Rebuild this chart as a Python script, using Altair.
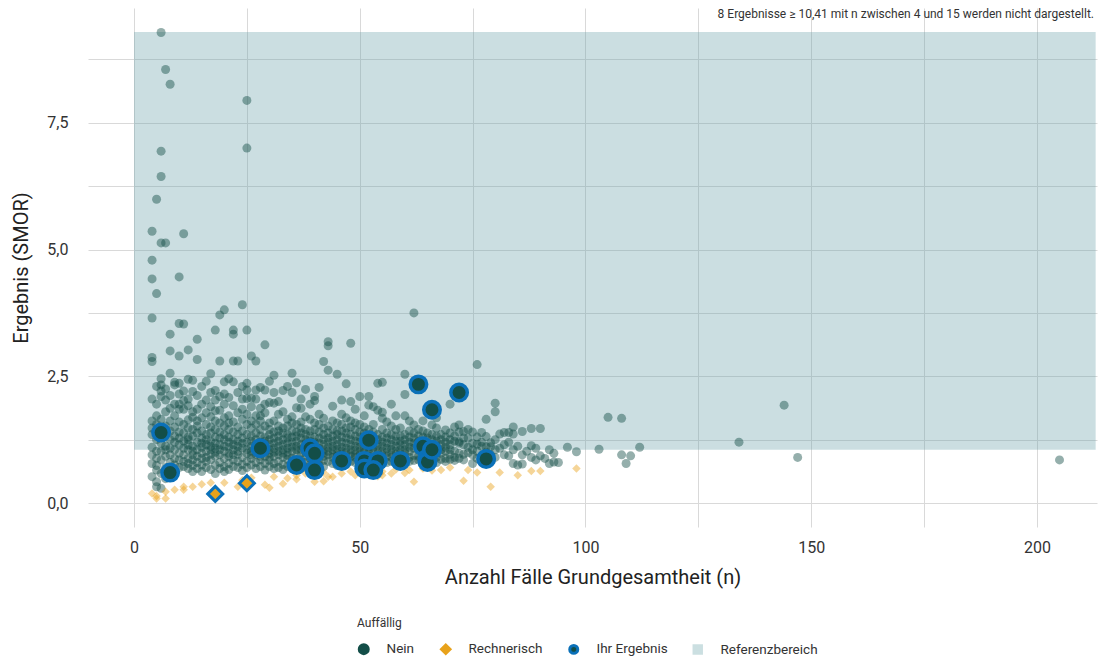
import altair as alt
import pandas as pd

# ---------------- data ----------------
# Unauffällige Ergebnisse ("Nein"): Fallzahl n and the SMOR values at that n
nein_n = [4, 5, 6, 7, 8, 9, 10, 11, 12, 13, 14, 15, 16, 17, 18, 19, 20, 21, 22, 23,
          24, 25, 26, 27, 28, 29, 30, 31, 32, 33, 34, 35, 36, 37, 38, 39, 40, 41, 42, 43,
          44, 45, 46, 47, 48, 49, 50, 51, 52, 53, 54, 55, 56, 57, 58, 59, 60, 61, 62, 63,
          64, 65, 66, 67, 68, 69, 70, 71, 72, 73, 74, 75, 76, 77, 78, 79, 80, 81, 82, 83,
          84, 85, 86, 87, 88, 89, 90, 91, 92, 93, 94, 96, 98, 103, 105, 108, 109, 110, 112, 134,
          144, 147, 205]
nein_y = [
    [5.36, 4.79, 4.42, 3.65, 2.87, 2.79, 0.52, 1.62, 1.35, 0.95, 1.10, 0.78, 2.05, 1.48],
    [5.99, 4.13, 1.72, 0.32, 0.42, 2.30, 1.25, 0.88, 1.55, 0.65, 1.02, 1.95, 1.38, 0.74],
    [9.28, 6.94, 6.44, 5.13, 2.33, 2.21, 1.65, 1.18, 0.85, 0.29, 2.10, 1.45, 0.58, 1.02, 1.30, 2.45],
    [8.55, 5.13, 2.03, 1.52, 1.12, 0.92, 0.48, 1.80, 0.70, 1.36, 2.25, 1.05],
    [8.26, 3.33, 3.00, 2.56, 1.87, 1.42, 1.08, 0.80, 0.55, 2.12, 1.25, 0.95, 1.62],
    [2.33, 1.95, 1.20, 0.88, 1.50, 0.62, 2.38, 1.05, 1.72, 0.75, 1.32],
    [4.46, 3.54, 2.90, 2.36, 1.95, 1.85, 1.40, 1.15, 0.98, 0.70, 0.85, 1.60, 2.15, 1.28],
    [5.31, 3.53, 2.21, 1.55, 1.22, 0.95, 0.72, 1.85, 1.08, 1.38, 0.82, 2.02],
    [3.02, 2.44, 1.64, 1.30, 1.05, 0.88, 0.68, 1.48, 2.05, 1.15, 0.78, 1.92, 1.25],
    [1.69, 1.45, 1.12, 0.95, 0.74, 2.20, 1.32, 0.85, 1.80, 1.02, 0.62, 2.42],
    [3.23, 2.83, 1.62, 1.38, 1.20, 0.92, 0.80, 1.05, 2.12, 0.68, 1.52, 1.85],
    [1.95, 1.28, 1.10, 0.98, 0.75, 1.42, 0.62, 1.68, 2.30, 0.88, 1.18],
    [2.03, 1.78, 1.35, 1.15, 0.90, 0.70, 1.55, 1.02, 0.82, 2.40, 1.25],
    [2.18, 1.90, 1.50, 1.22, 1.05, 0.85, 0.66, 1.38, 0.96, 1.70, 2.55, 1.12],
    [3.41, 2.03, 1.62, 1.30, 1.08, 0.92, 0.75, 1.45, 1.18, 0.58, 2.22, 1.00, 1.82],
    [3.71, 2.80, 1.83, 1.40, 1.15, 0.95, 0.80, 1.28, 0.68, 1.58, 2.10, 1.05],
    [3.81, 2.39, 1.52, 1.25, 1.02, 0.88, 0.72, 1.95, 1.35, 1.12, 0.62, 1.68, 2.15],
    [2.08, 1.72, 1.30, 1.10, 0.92, 0.78, 1.45, 1.20, 0.98, 2.45, 0.66, 1.58],
    [3.33, 3.41, 2.39, 2.80, 1.60, 1.25, 1.05, 0.85, 1.40, 0.72, 1.92, 1.15, 0.95],
    [2.80, 1.78, 1.35, 1.12, 0.96, 0.82, 1.50, 0.70, 2.18, 1.22, 1.02],
    [3.91, 2.05, 1.65, 1.28, 1.08, 0.90, 0.76, 1.42, 1.18, 2.30, 0.64, 1.85],
    [7.94, 7.00, 3.41, 2.36, 2.23, 2.06, 1.55, 1.20, 0.98, 0.82, 1.35, 1.05, 0.70, 1.75],
    [2.90, 2.07, 1.48, 1.22, 1.02, 0.88, 1.62, 1.12, 0.75, 1.32, 0.95, 1.90],
    [2.80, 2.23, 1.72, 1.38, 1.15, 0.96, 0.80, 1.25, 1.05, 0.68, 1.55, 2.05],
    [2.28, 1.87, 1.72, 1.45, 1.20, 1.00, 0.85, 1.32, 0.72, 1.10, 1.62, 0.92],
    [3.12, 2.23, 1.78, 1.30, 1.12, 0.92, 0.78, 1.52, 1.02, 1.22, 0.65, 1.95],
    [1.98, 1.58, 1.35, 1.15, 0.98, 0.84, 1.25, 0.72, 1.45, 1.05, 2.40, 0.90],
    [1.97, 2.18, 1.62, 1.28, 1.08, 0.92, 0.78, 1.40, 1.18, 0.68, 1.00, 2.52],
    [2.00, 1.52, 1.32, 1.12, 0.95, 0.82, 1.22, 1.02, 0.70, 1.75, 1.42],
    [1.80, 1.48, 1.25, 1.05, 0.90, 0.76, 1.38, 1.15, 0.98, 2.22, 0.66],
    [2.30, 1.65, 1.35, 1.18, 1.00, 0.86, 1.28, 0.72, 1.08, 1.52, 0.94],
    [2.56, 2.18, 1.70, 1.42, 1.20, 1.02, 0.88, 1.30, 0.80, 1.10, 0.68, 1.58],
    [2.37, 1.55, 1.32, 1.12, 0.95, 1.22, 0.84, 1.05, 1.88, 0.72, 1.40],
    [1.87, 1.60, 1.38, 1.15, 0.98, 0.85, 1.28, 1.06, 0.74, 2.05, 1.48],
    [2.24, 1.45, 1.25, 1.08, 0.92, 0.80, 1.35, 1.18, 0.70, 1.70, 1.00],
    [1.65, 1.42, 1.22, 1.02, 0.88, 1.32, 1.12, 0.76, 1.95, 0.95],
    [2.10, 2.02, 1.58, 1.30, 1.10, 0.92, 0.82, 1.20, 1.02, 0.70, 1.45],
    [1.75, 1.40, 1.18, 1.00, 0.86, 1.28, 1.08, 0.75, 1.55, 0.94, 2.28],
    [2.79, 1.67, 1.35, 1.15, 0.98, 0.84, 1.25, 1.05, 0.72, 1.48, 0.92],
    [3.10, 3.18, 2.62, 1.52, 1.28, 1.10, 0.95, 1.20, 0.82, 1.02, 1.38],
    [1.91, 1.45, 1.22, 1.05, 0.90, 1.32, 0.78, 1.12, 0.96, 1.62],
    [2.54, 1.58, 1.35, 1.15, 0.98, 0.86, 1.25, 1.06, 0.74, 1.42, 0.92],
    [2.03, 1.42, 1.20, 1.02, 0.88, 1.30, 1.10, 0.78, 1.55, 0.95, 1.75],
    [1.68, 1.38, 1.18, 1.00, 0.85, 1.28, 1.08, 0.76, 1.48, 2.35],
    [3.15, 2.00, 1.50, 1.25, 1.05, 0.92, 1.35, 0.82, 1.15, 0.98, 1.62],
    [1.85, 1.45, 1.22, 1.04, 0.90, 1.32, 1.12, 0.80, 0.96, 1.58],
    [2.10, 1.55, 1.30, 1.10, 0.95, 0.84, 1.20, 1.02, 0.76, 1.40],
    [1.72, 1.38, 1.18, 1.00, 0.88, 1.28, 0.78, 1.08, 1.50],
    [1.93, 2.10, 1.45, 1.22, 1.05, 0.92, 1.32, 0.82, 1.12, 0.98],
    [1.90, 1.40, 1.18, 1.02, 0.88, 1.28, 0.78, 1.10, 1.55],
    [2.36, 1.83, 1.35, 1.15, 0.98, 0.86, 1.25, 1.05, 0.76],
    [2.38, 1.79, 1.67, 1.30, 1.12, 0.95, 0.84, 1.20, 1.02, 1.45],
    [1.60, 1.28, 1.08, 0.92, 1.18, 0.80, 1.38, 1.00],
    [1.52, 1.25, 1.06, 0.90, 1.15, 0.82, 1.35, 0.98, 1.95],
    [1.72, 1.32, 1.12, 0.96, 0.85, 1.22, 1.02, 1.45],
    [1.48, 1.22, 1.05, 0.92, 1.15, 0.80, 1.32, 0.98],
    [2.54, 2.14, 1.72, 1.35, 1.15, 0.98, 0.86, 1.25, 1.05, 0.78],
    [1.42, 1.20, 1.02, 0.90, 1.30, 0.82, 1.10, 1.62],
    [3.75, 1.54, 1.28, 1.08, 0.94, 1.18, 0.84, 1.38],
    [1.45, 1.22, 1.05, 0.92, 1.32, 0.85, 1.12],
    [1.62, 1.30, 1.10, 0.96, 1.20, 0.84, 1.42, 1.02],
    [1.38, 1.18, 1.00, 0.88, 1.28, 0.80, 1.08],
    [1.54, 1.25, 1.05, 0.92, 1.15, 0.84, 1.35],
    [1.48, 1.22, 1.02, 0.90, 1.12, 0.80, 1.32, 1.68],
    [1.35, 1.15, 0.98, 0.86, 1.25, 1.05],
    [1.44, 1.20, 1.02, 0.88, 1.30, 0.82, 1.10],
    [1.95, 1.38, 1.15, 0.96, 1.25, 0.86, 1.05],
    [1.50, 1.22, 1.02, 0.90, 1.32, 0.84],
    [1.54, 1.21, 1.18, 0.98, 1.40, 0.88],
    [1.41, 1.15, 0.96, 1.28, 0.85],
    [1.28, 0.99, 1.10, 1.45],
    [1.40, 1.18, 0.95, 0.78, 1.05],
    [2.73, 1.16, 1.02, 0.88, 1.30],
    [1.39, 1.12, 0.92, 1.20],
    [1.65, 1.31, 1.11, 1.00, 0.85],
    [1.19, 1.11, 0.95],
    [1.97, 1.80, 1.25, 1.05, 0.90],
    [1.36, 1.08],
    [1.39, 1.15, 0.95],
    [1.39, 0.93, 1.20],
    [1.36, 1.50, 0.78, 1.05],
    [0.75, 1.12],
    [1.41, 0.95, 0.77],
    [1.02],
    [1.47, 1.13, 0.90],
    [0.85, 1.08],
    [1.47, 0.93],
    [0.88],
    [0.78, 1.05],
    [0.98, 0.81],
    [0.80],
    [1.10],
    [1.01],
    [1.06],
    [1.69],
    [1.67, 0.95],
    [0.78],
    [0.93],
    [1.10],
    [1.20],
    [1.93],
    [0.90],
    [0.85],
]

# Rechnerisch auffällige Ergebnisse
rechn_n = [4, 5, 5, 7, 7, 9, 11, 11, 13, 15, 17, 20, 23, 24, 26, 29, 30, 31, 33, 34,
           36, 36, 38, 40, 40, 42, 42, 43, 44, 46, 48, 49, 50, 52, 54, 55, 55, 57, 58, 60,
           61, 62, 64, 66, 68, 70, 73, 74, 76, 79, 81, 85, 88, 90, 98]
rechn_y = [0.19, 0.09, 0.14, 0.09, 0.22, 0.26, 0.26, 0.32, 0.32, 0.37, 0.40, 0.40, 0.32, 0.45, 0.50, 0.36, 0.30, 0.52, 0.38, 0.49,
           0.47, 0.55, 0.58, 0.42, 0.55, 0.43, 0.60, 0.52, 0.52, 0.58, 0.62, 0.55, 0.64, 0.60, 0.53, 0.55, 0.62, 0.58, 0.66, 0.59,
           0.65, 0.42, 0.68, 0.64, 0.65, 0.70, 0.44, 0.65, 0.60, 0.32, 0.60, 0.55, 0.63, 0.63, 0.68]

# Ihr Ergebnis (highlighted)
ihr_n = [6, 8, 28, 36, 39, 40, 40, 46, 51, 51, 52, 54, 53, 59, 63, 64, 65, 65, 66, 66, 72, 78, 18, 25]
ihr_y = [1.39, 0.60, 1.08, 0.75, 1.08, 0.98, 0.65, 0.83, 0.83, 0.68, 1.24, 0.83, 0.65, 0.83, 2.34, 1.12,
         0.88, 0.81, 1.05, 1.84, 2.18, 0.87, 0.18, 0.39]
ihr_status = ["Nein"] * 22 + ["Rechnerisch"] * 2

# Referenzbereich band
ref_x = [0, 213]
ref_y = [1.05, 9.29]

legend_labels = ["Nein", "Rechnerisch", "Ihr Ergebnis", "Referenzbereich"]
note_text = "8 Ergebnisse \u2265 10,41 mit n zwischen 4 und 15 werden nicht dargestellt."

# ---------------- chart ----------------
DARK = "#134e48"
ORANGE = "#e8a21b"
BLUE = "#0a70b8"
BAND_LEG = "#cbdfe1"

rows = []
for n, ys in zip(nein_n, nein_y):
    for y in ys:
        rows.append({"n": n, "smor": y, "kat": "Nein"})
for n, y in zip(rechn_n, rechn_y):
    rows.append({"n": n, "smor": y, "kat": "Rechnerisch"})
cloud_df = pd.DataFrame(rows)
ihr_df = pd.DataFrame({"n": ihr_n, "smor": ihr_y, "status": ihr_status})
band_df = pd.DataFrame({"x0": [ref_x[0]], "x1": [ref_x[1]], "y0": [ref_y[0]], "y1": [ref_y[1]]})
note_df = pd.DataFrame({"t": [note_text]})

x_scale = alt.Scale(domain=[-10.19, 213.3], nice=False, zero=False)
y_scale = alt.Scale(domain=[-0.473, 9.763], nice=False, zero=False)

x_axis = alt.Axis(
    values=[0, 25, 50, 75, 100, 125, 150, 175, 200],
    labelExpr="datum.value % 50 == 0 ? datum.label : ''",
    title="Anzahl Fälle Grundgesamtheit (n)",
    ticks=False, domain=False, grid=True, gridColor="#d9d9d9", gridWidth=1,
    labelFontSize=16, titleFontSize=20, labelPadding=12, titlePadding=12,
    labelColor="#333333", titleColor="#222222", titleFontWeight="normal",
)
y_axis = alt.Axis(
    values=[0, 1.25, 2.5, 3.75, 5, 6.25, 7.5, 8.75],
    labelExpr="datum.value % 2.5 == 0 ? replace(format(datum.value, '.1f'), '.', ',') : ''",
    title="Ergebnis (SMOR)",
    ticks=False, domain=False, grid=True, gridColor="#d9d9d9", gridWidth=1,
    labelFontSize=16, titleFontSize=20, labelPadding=20, titlePadding=15,
    labelColor="#333333", titleColor="#222222", titleFontWeight="normal",
)

legend = alt.Legend(
    title="Auffällig", orient="none", legendX=269, legendY=610,
    direction="horizontal", columns=4, symbolOpacity=1, symbolStrokeWidth=3,
    labelFontSize=13.5, titleFontSize=12, titleFontWeight="normal",
    labelOffset=16, columnPadding=20, titlePadding=12,
    labelColor="#333333", titleColor="#333333",
)

band = alt.Chart(band_df).mark_rect(color="#6aa1a9", opacity=0.35).encode(
    x=alt.X("x0:Q", scale=x_scale, axis=x_axis),
    x2="x1:Q",
    y=alt.Y("y0:Q", scale=y_scale, axis=y_axis),
    y2="y1:Q",
)

cloud = alt.Chart(cloud_df).mark_point(filled=True, opacity=0.45, strokeWidth=0).encode(
    x=alt.X("n:Q", scale=x_scale),
    y=alt.Y("smor:Q", scale=y_scale),
    fill=alt.Fill("kat:N", scale=alt.Scale(domain=legend_labels, range=[DARK, ORANGE, DARK, BAND_LEG]), legend=legend),
    stroke=alt.Stroke("kat:N", scale=alt.Scale(domain=legend_labels, range=[DARK, ORANGE, BLUE, BAND_LEG]), legend=legend),
    shape=alt.Shape("kat:N", scale=alt.Scale(domain=legend_labels, range=["circle", "diamond", "circle", "square"]), legend=legend),
    size=alt.Size("kat:N", scale=alt.Scale(domain=legend_labels, range=[81, 55, 240, 700]), legend=legend),
)

ihr_circ = alt.Chart(ihr_df[ihr_df["status"] == "Nein"]).mark_point(
    filled=True, shape="circle", size=272, color=DARK, fill=DARK, stroke=BLUE, strokeWidth=3.5, opacity=1
).encode(x=alt.X("n:Q", scale=x_scale), y=alt.Y("smor:Q", scale=y_scale))

ihr_diam = alt.Chart(ihr_df[ihr_df["status"] == "Rechnerisch"]).mark_point(
    filled=True, shape="diamond", size=225, color=ORANGE, fill=ORANGE, stroke=BLUE, strokeWidth=3, opacity=1
).encode(x=alt.X("n:Q", scale=x_scale), y=alt.Y("smor:Q", scale=y_scale))

note = alt.Chart(note_df).mark_text(align="right", baseline="top", fontSize=12, color="#333333").encode(
    x=alt.value(1006), y=alt.value(1), text="t:N"
)

chart = alt.layer(band, cloud, ihr_circ, ihr_diam, note).properties(
    width=1009, height=519,
    autosize=alt.AutoSizeParams(type="none"),
    padding={"left": 80, "top": 0, "right": 4, "bottom": 132},
).configure(font="Roboto").configure_view(stroke=None)

chart.save("out.html", embed_options={"renderer": "svg", "actions": False})
